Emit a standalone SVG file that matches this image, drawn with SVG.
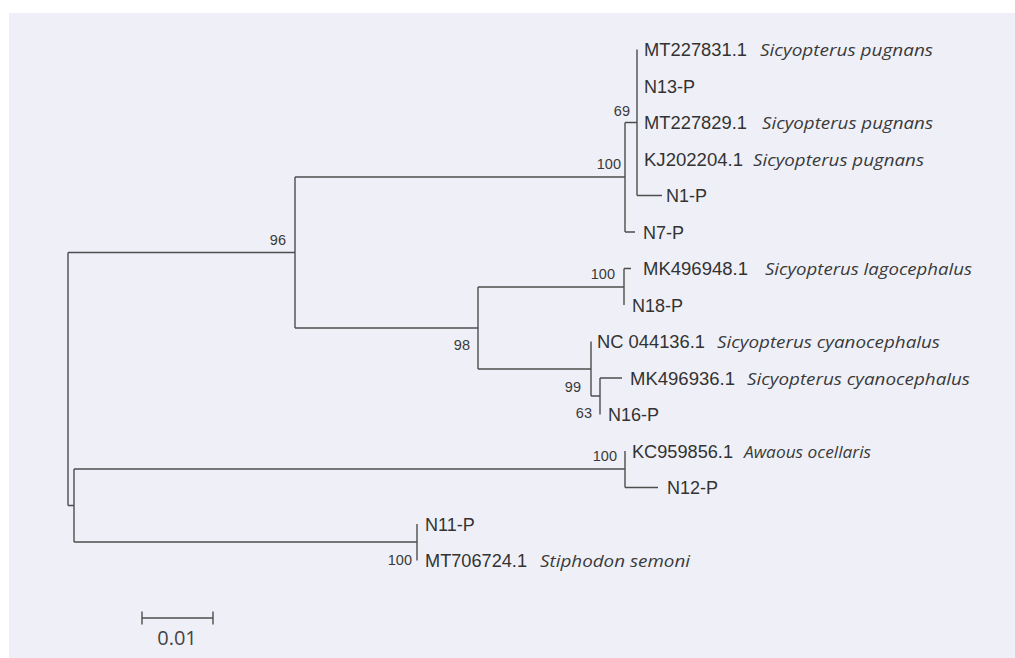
<svg xmlns="http://www.w3.org/2000/svg" width="1015" height="658" viewBox="0 0 1015 658">
<style>
.acc{font-family:"Liberation Sans",Arial,sans-serif;font-size:18px;fill:#333}
.sp{font-family:"Open Sans","Noto Sans",sans-serif;font-style:italic;font-size:17px;fill:#3a3a3a}
.bs{font-family:"Liberation Sans",Arial,sans-serif;font-size:14.5px;fill:#3a3a3a;text-anchor:end}
.br{fill:none;stroke:#4d4d4d;stroke-width:1.4}
.sc{font-family:"Open Sans","Noto Sans",sans-serif;font-size:20px;fill:#444;text-anchor:middle}
</style>
<rect x="0" y="0" width="1015" height="658" fill="#ffffff"/>
<rect x="9" y="13" width="1006" height="645" fill="#eff0f7"/>
<g id="connectors" class="br">
<path d="M68,252.5V505.5M68,252.5H295M68,505.5H74"/>
<path d="M295,177V328M295,177H625M295,328H478"/>
<path d="M625,122.5V232M625,122.5H637M625,232H635"/>
<path d="M637,49.5V195.5M637,195.5H662"/>
<path d="M478,287V369M478,287H624M478,369H591"/>
<path d="M624,268.5V305M624,268.5H631"/>
<path d="M591,341.5V396M591,396H600"/>
<path d="M600,378V414.5M600,378H622"/>
<path d="M74,469V542M74,469H625M74,542H417"/>
<path d="M625,451V487.5M625,487.5H658"/>
<path d="M417,524V560.5"/>
</g>
<g id="node-69"><text class="bs" x="630" y="116">69</text></g>
<g id="node-100a"><text class="bs" x="621" y="169">100</text></g>
<g id="node-96"><text class="bs" x="286" y="245">96</text></g>
<g id="node-100b"><text class="bs" x="615" y="279">100</text></g>
<g id="node-98"><text class="bs" x="470" y="350">98</text></g>
<g id="node-99"><text class="bs" x="581" y="391.5">99</text></g>
<g id="node-63"><text class="bs" x="592" y="418">63</text></g>
<g id="node-100c"><text class="bs" x="617" y="461">100</text></g>
<g id="node-100d"><text class="bs" x="412" y="565">100</text></g>
<g id="leaf-MT227831"><text class="acc" x="644" y="56" textLength="103" lengthAdjust="spacingAndGlyphs">MT227831.1</text><text class="sp" x="760" y="56" textLength="173" lengthAdjust="spacingAndGlyphs">Sicyopterus pugnans</text></g>
<g id="leaf-N13"><text class="acc" x="644" y="92.5">N13-P</text></g>
<g id="leaf-MT227829"><text class="acc" x="644" y="129" textLength="103" lengthAdjust="spacingAndGlyphs">MT227829.1</text><text class="sp" x="762" y="129" textLength="171" lengthAdjust="spacingAndGlyphs">Sicyopterus pugnans</text></g>
<g id="leaf-KJ202204"><text class="acc" x="644" y="165.5" textLength="99" lengthAdjust="spacingAndGlyphs">KJ202204.1</text><text class="sp" x="753" y="165.5" textLength="171" lengthAdjust="spacingAndGlyphs">Sicyopterus pugnans</text></g>
<g id="leaf-N1"><text class="acc" x="666" y="202">N1-P</text></g>
<g id="leaf-N7"><text class="acc" x="643" y="238.5">N7-P</text></g>
<g id="leaf-MK496948"><text class="acc" x="643" y="275" textLength="105" lengthAdjust="spacingAndGlyphs">MK496948.1</text><text class="sp" x="765" y="275" textLength="207" lengthAdjust="spacingAndGlyphs">Sicyopterus lagocephalus</text></g>
<g id="leaf-N18"><text class="acc" x="632" y="311.5">N18-P</text></g>
<g id="leaf-NC044136"><text class="acc" x="597" y="348" textLength="108" lengthAdjust="spacingAndGlyphs">NC 044136.1</text><text class="sp" x="717" y="348" textLength="223" lengthAdjust="spacingAndGlyphs">Sicyopterus cyanocephalus</text></g>
<g id="leaf-MK496936"><text class="acc" x="630" y="384.5" textLength="105" lengthAdjust="spacingAndGlyphs">MK496936.1</text><text class="sp" x="747" y="384.5" textLength="223" lengthAdjust="spacingAndGlyphs">Sicyopterus cyanocephalus</text></g>
<g id="leaf-N16"><text class="acc" x="608" y="421">N16-P</text></g>
<g id="leaf-KC959856"><text class="acc" x="632" y="457.5" textLength="101" lengthAdjust="spacingAndGlyphs">KC959856.1</text><text class="sp" x="744" y="457.5" textLength="127" lengthAdjust="spacingAndGlyphs">Awaous ocellaris</text></g>
<g id="leaf-N12"><text class="acc" x="667" y="494">N12-P</text></g>
<g id="leaf-N11"><text class="acc" x="425" y="530.5">N11-P</text></g>
<g id="leaf-MT706724"><text class="acc" x="425" y="567" textLength="102" lengthAdjust="spacingAndGlyphs">MT706724.1</text><text class="sp" x="540" y="567" textLength="150" lengthAdjust="spacingAndGlyphs">Stiphodon semoni</text></g>
<g id="scale-bar">
<path class="br" d="M142,618H213M142,611.5V624.5M213,611.5V624.5"/>
<text class="sc" x="177" y="645">0.01</text>
</g>
</svg>
